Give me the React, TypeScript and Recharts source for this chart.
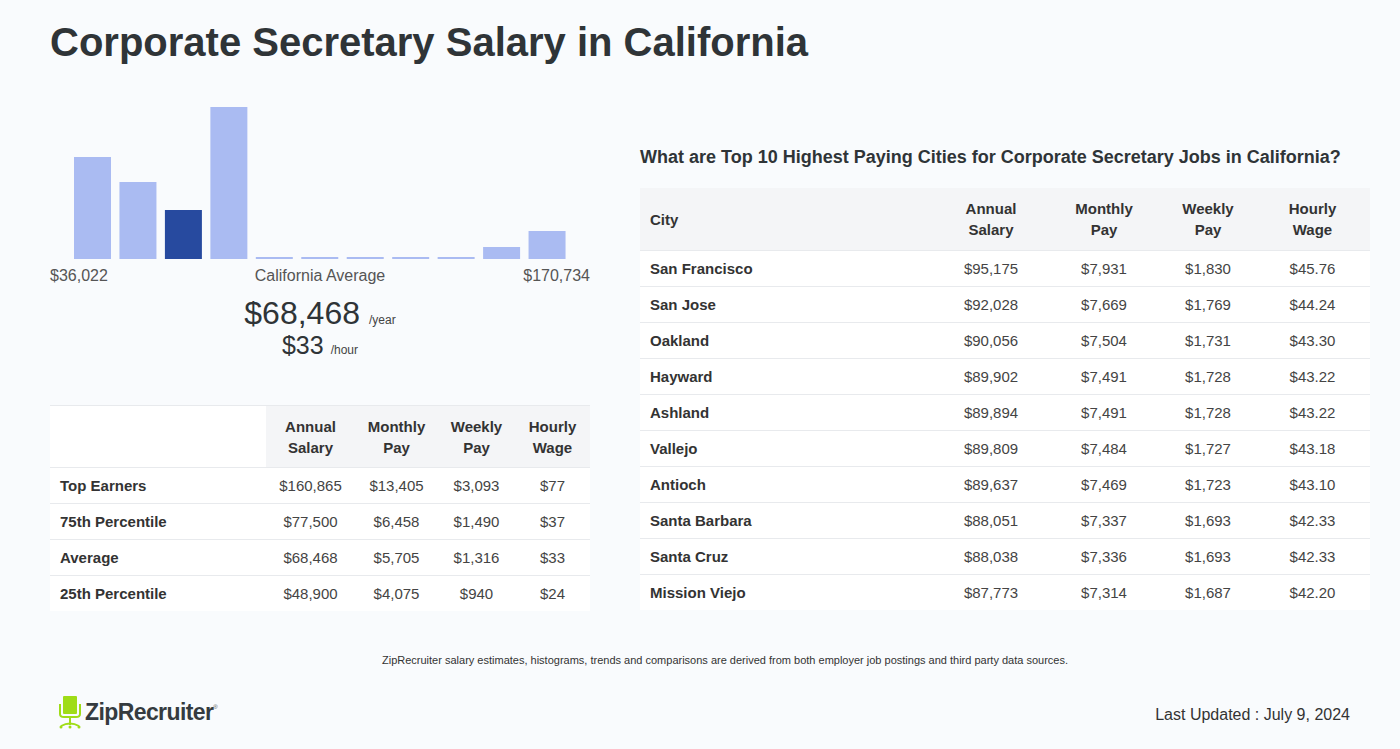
import React from "react";
import { BarChart, Bar, Cell, XAxis, YAxis } from "recharts";

// histogram bins (relative job counts), the average bin is highlighted
const bins = ["b1", "b2", "b3", "b4", "b5", "b6", "b7", "b8", "b9", "b10", "b11"];
const counts = [102, 77, 49, 152, 2, 2, 2, 2, 2, 12, 28];
const avgBin = 2;

const minLabel = "$36,022";
const maxLabel = "$170,734";
const avgYear = "$68,468";
const avgHour = "$33";

const pctLabels = ["Top Earners", "75th Percentile", "Average", "25th Percentile"];
const pctAnnual = ["$160,865", "$77,500", "$68,468", "$48,900"];
const pctMonthly = ["$13,405", "$6,458", "$5,705", "$4,075"];
const pctWeekly = ["$3,093", "$1,490", "$1,316", "$940"];
const pctHourly = ["$77", "$37", "$33", "$24"];

const cities = [
  "San Francisco", "San Jose", "Oakland", "Hayward", "Ashland",
  "Vallejo", "Antioch", "Santa Barbara", "Santa Cruz", "Mission Viejo",
];
const cityAnnual = ["$95,175", "$92,028", "$90,056", "$89,902", "$89,894", "$89,809", "$89,637", "$88,051", "$88,038", "$87,773"];
const cityMonthly = ["$7,931", "$7,669", "$7,504", "$7,491", "$7,491", "$7,484", "$7,469", "$7,337", "$7,336", "$7,314"];
const cityWeekly = ["$1,830", "$1,769", "$1,731", "$1,728", "$1,728", "$1,727", "$1,723", "$1,693", "$1,693", "$1,687"];
const cityHourly = ["$45.76", "$44.24", "$43.30", "$43.22", "$43.22", "$43.18", "$43.10", "$42.33", "$42.33", "$42.20"];

const histData = bins.map((b, i) => ({ bin: b, count: counts[i] }));

const font = "'Liberation Sans', Arial, sans-serif";
const dark = "#2f3437";
const light = "#aabbf2";
const strong = "#274a9f";
const headBg = "#f4f5f7";
const line = "#e8eaed";

const th: React.CSSProperties = {
  fontWeight: 700,
  fontSize: 15,
  lineHeight: "21px",
  color: "#333",
  textAlign: "center",
  background: headBg,
  padding: 0,
  height: 61,
};
const td: React.CSSProperties = {
  fontSize: 15,
  color: "#444",
  textAlign: "center",
  height: 35,
  padding: 0,
  borderTop: `1px solid ${line}`,
};
const tdLabel: React.CSSProperties = {
  ...td,
  textAlign: "left",
  fontWeight: 700,
  color: "#333",
  paddingLeft: 10,
};

const Logo = () => (
  <div style={{ position: "absolute", left: 58, top: 695, display: "flex", alignItems: "center" }}>
    <svg width="24" height="34" viewBox="0 0 24 34">
      <rect x="5" y="1" width="14" height="18" rx="1" fill="#9fdc17" />
      <path d="M2 9 V19 Q2 22 6 22 H18 Q22 22 22 19 V9" stroke="#9fdc17" strokeWidth="2" fill="none" />
      <rect x="11" y="22" width="2" height="8" fill="#9fdc17" />
      <path d="M3 31 Q12 26 21 31" stroke="#9fdc17" strokeWidth="2" fill="none" />
      <circle cx="3" cy="32" r="1.5" fill="#9fdc17" />
      <circle cx="21" cy="32" r="1.5" fill="#9fdc17" />
      <circle cx="12" cy="32" r="1.5" fill="#9fdc17" />
    </svg>
    <span style={{ fontFamily: font, fontSize: 23, fontWeight: 700, color: "#353b3f", marginLeft: 3, letterSpacing: -0.6 }}>
      ZipRecruiter
    </span>
    <span style={{ fontSize: 6, color: "#555", alignSelf: "flex-start", marginTop: 9 }}>®</span>
  </div>
);

export default function App() {
  return (
    <div
      style={{
        position: "absolute",
        left: 0,
        top: 0,
        width: 1400,
        height: 749,
        background: "#f9fbfd",
        fontFamily: font,
        color: dark,
        overflow: "hidden",
      }}
    >
      <div style={{ position: "absolute", left: 50, top: 20, fontSize: 40, fontWeight: 700, color: dark, whiteSpace: "nowrap" }}>
        Corporate Secretary Salary in California
      </div>

      {/* histogram */}
      <div style={{ position: "absolute", left: 50, top: 107 }}>
        <BarChart width={540} height={152} data={histData} margin={{ top: 0, right: 20, bottom: 0, left: 20 }} barCategoryGap={4}>
          <XAxis dataKey="bin" hide />
          <YAxis hide domain={[0, 152]} />
          <Bar dataKey="count" isAnimationActive={false}>
            {histData.map((d, i) => (
              <Cell key={d.bin} fill={i === avgBin ? strong : light} />
            ))}
          </Bar>
        </BarChart>
      </div>
      <div style={{ position: "absolute", left: 50, top: 266, width: 540, fontSize: 16, color: "#555", lineHeight: "19px" }}>
        <span style={{ position: "absolute", left: 0 }}>{minLabel}</span>
        <span style={{ position: "absolute", left: 0, width: 540, textAlign: "center" }}>California Average</span>
        <span style={{ position: "absolute", right: 0 }}>{maxLabel}</span>
      </div>
      <div style={{ position: "absolute", left: 50, top: 295, width: 540, textAlign: "center", whiteSpace: "nowrap" }}>
        <span style={{ fontSize: 32, color: dark }}>{avgYear}</span>
        <span style={{ fontSize: 12, color: "#444", marginLeft: 9 }}>/year</span>
      </div>
      <div style={{ position: "absolute", left: 50, top: 331, width: 540, textAlign: "center", whiteSpace: "nowrap" }}>
        <span style={{ fontSize: 25, color: dark }}>{avgHour}</span>
        <span style={{ fontSize: 12, color: "#444", marginLeft: 7 }}>/hour</span>
      </div>

      {/* percentile table */}
      <table
        style={{
          position: "absolute",
          left: 50,
          top: 405,
          width: 540,
          borderCollapse: "collapse",
          tableLayout: "fixed",
          background: "#fff",
          fontFamily: font,
          borderTop: `1px solid ${line}`,
        }}
      >
        <colgroup>
          <col style={{ width: 216 }} />
          <col style={{ width: 89 }} />
          <col style={{ width: 83 }} />
          <col style={{ width: 77 }} />
          <col style={{ width: 75 }} />
        </colgroup>
        <thead>
          <tr>
            <th style={{ ...th, background: "#fff" }} />
            <th style={th}>Annual<br />Salary</th>
            <th style={th}>Monthly<br />Pay</th>
            <th style={th}>Weekly<br />Pay</th>
            <th style={th}>Hourly<br />Wage</th>
          </tr>
        </thead>
        <tbody>
          {pctLabels.map((l, i) => (
            <tr key={l}>
              <td style={tdLabel}>{l}</td>
              <td style={td}>{pctAnnual[i]}</td>
              <td style={td}>{pctMonthly[i]}</td>
              <td style={td}>{pctWeekly[i]}</td>
              <td style={td}>{pctHourly[i]}</td>
            </tr>
          ))}
        </tbody>
      </table>

      {/* cities */}
      <div style={{ position: "absolute", left: 640, top: 147, fontSize: 18, fontWeight: 700, color: dark, whiteSpace: "nowrap" }}>
        What are Top 10 Highest Paying Cities for Corporate Secretary Jobs in California?
      </div>
      <table
        style={{
          position: "absolute",
          left: 640,
          top: 188,
          width: 730,
          borderCollapse: "collapse",
          tableLayout: "fixed",
          background: "#fff",
          fontFamily: font,
        }}
      >
        <colgroup>
          <col style={{ width: 295 }} />
          <col style={{ width: 112 }} />
          <col style={{ width: 114 }} />
          <col style={{ width: 94 }} />
          <col style={{ width: 115 }} />
        </colgroup>
        <thead>
          <tr>
            <th style={{ ...th, height: 62, textAlign: "left", paddingLeft: 10 }}>City</th>
            <th style={{ ...th, height: 62 }}>Annual<br />Salary</th>
            <th style={{ ...th, height: 62 }}>Monthly<br />Pay</th>
            <th style={{ ...th, height: 62 }}>Weekly<br />Pay</th>
            <th style={{ ...th, height: 62 }}>Hourly<br />Wage</th>
          </tr>
        </thead>
        <tbody>
          {cities.map((c, i) => (
            <tr key={c}>
              <td style={tdLabel}>{c}</td>
              <td style={td}>{cityAnnual[i]}</td>
              <td style={td}>{cityMonthly[i]}</td>
              <td style={td}>{cityWeekly[i]}</td>
              <td style={td}>{cityHourly[i]}</td>
            </tr>
          ))}
        </tbody>
      </table>

      <div style={{ position: "absolute", left: 0, top: 654, width: 1450, textAlign: "center", fontSize: 11, color: "#333" }}>
        ZipRecruiter salary estimates, histograms, trends and comparisons are derived from both employer job postings and third party data sources.
      </div>

      <Logo />

      <div style={{ position: "absolute", right: 50, top: 706, fontSize: 16, color: "#333" }}>
        Last Updated : July 9, 2024
      </div>
    </div>
  );
}
